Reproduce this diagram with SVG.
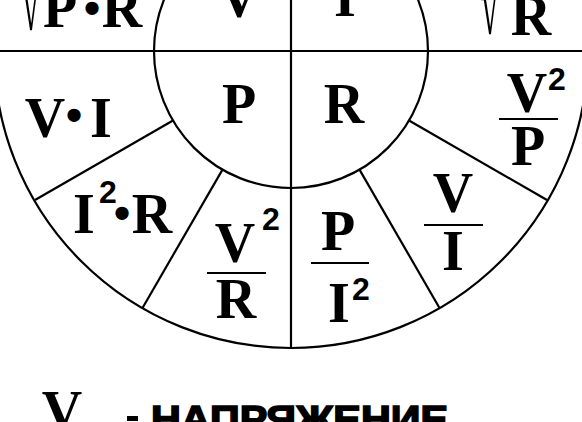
<svg xmlns="http://www.w3.org/2000/svg" width="582" height="422" viewBox="0 0 582 422">
<style>
.ln{stroke:#000;stroke-width:2.2;fill:none}
.f{font-family:"Liberation Serif","Times New Roman",serif;font-weight:bold;font-size:56px;fill:#000;text-anchor:middle}
.s{font-family:"Liberation Sans",Arial,sans-serif;font-weight:bold;font-size:32px;fill:#000;text-anchor:middle}
.d{font-family:"Liberation Sans",Arial,sans-serif;font-weight:bold;font-size:46px;fill:#000;text-anchor:middle}
.rad{font-family:"Liberation Serif","Times New Roman",serif;font-weight:normal;font-size:40px;fill:#000;text-anchor:middle}
.bar{stroke:#000;stroke-width:2}
</style>
<rect width="582" height="422" fill="#fff"/>
<g id="wheel">
<circle class="ln" cx="291" cy="51" r="297"/>
<circle class="ln" cx="291" cy="51" r="137"/>
<line class="ln" x1="0" y1="51" x2="582" y2="51"/>
<line class="ln" x1="291" y1="0" x2="291" y2="348"/>
<line class="ln" x1="173" y1="120.5" x2="35" y2="200"/>
<line class="ln" x1="222.5" y1="169.6" x2="142.5" y2="308"/>
<line class="ln" x1="409" y1="120.5" x2="547" y2="200"/>
<line class="ln" x1="359.5" y1="169.6" x2="439.5" y2="308"/>
</g>
<g id="c-P"><text class="f" x="239" y="123" font-size="59">P</text></g>
<g id="c-R"><text class="f" x="344" y="123" font-size="59">R</text></g>
<g id="t-V"><text class="f" x="239" y="17" font-size="58">V</text></g>
<g id="t-I"><text class="f" x="345" y="16" font-size="58">I</text></g>
<g id="t-sqrtPR"><text class="rad" transform="translate(31,30) scale(0.9,2.1)">√</text><text class="f" x="60" y="27">P</text><text class="d" x="92" y="24">•</text><text class="f" x="122" y="27">R</text></g>
<g id="t-sqrtPoverR"><text class="rad" transform="translate(490,34) scale(0.9,2.1)">√</text><text class="f" x="531" y="35">R</text></g>
<g id="VI"><text class="f" x="45" y="137">V</text><text class="d" x="74" y="131">•</text><text class="f" x="101" y="137">I</text></g>
<g id="I2R"><text class="f" x="84" y="233">I</text><text class="s" x="108" y="203">2</text><text class="d" x="122" y="229">•</text><text class="f" x="152" y="233">R</text></g>
<g id="V2R"><text class="f" x="235" y="262">V</text><text class="s" x="271" y="230">2</text><line class="bar" x1="207" y1="273" x2="266" y2="273"/><text class="f" x="236" y="318">R</text></g>
<g id="PI2"><text class="f" x="338" y="250">P</text><line class="bar" x1="311" y1="263" x2="369" y2="263"/><text class="f" x="339" y="322">I</text><text class="s" x="361" y="300">2</text></g>
<g id="VoI"><text class="f" x="453" y="212">V</text><line class="bar" x1="424" y1="225" x2="483" y2="225"/><text class="f" x="453" y="270">I</text></g>
<g id="V2P"><text class="f" x="527" y="112">V</text><text class="s" x="557" y="90">2</text><line class="bar" x1="499" y1="119" x2="558" y2="119"/><text class="f" x="528" y="165">P</text></g>
<g id="legend"><text class="f" x="62" y="430" font-size="56">V</text><text x="151" y="432" style="font-family:'Liberation Sans',Arial,sans-serif;font-weight:bold;font-size:36px;stroke:#000;stroke-width:1.6" textLength="297" lengthAdjust="spacingAndGlyphs">НАПРЯЖЕНИЕ</text><rect x="127" y="416" width="11" height="5" fill="#000"/></g>
</svg>
